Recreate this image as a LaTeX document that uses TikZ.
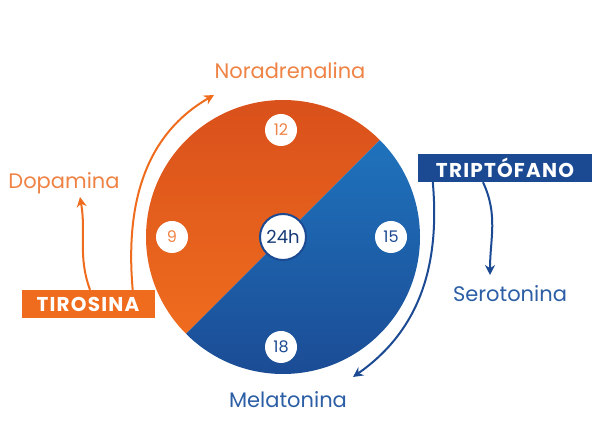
\documentclass[tikz,border=0pt]{standalone}
\usepackage{fontspec}
\setmainfont{Poppins}
\usetikzlibrary{arrows.meta}
\definecolor{naranja}{HTML}{EF6C1E}
\definecolor{naranjaosc}{HTML}{D84F1B}
\definecolor{naranjatxt}{HTML}{EE8345}
\definecolor{azul}{HTML}{1F72BC}
\definecolor{azulosc}{HTML}{1B4A93}
\definecolor{azultxt}{HTML}{2C5EA5}
\begin{document}
\begin{tikzpicture}[x=1pt,y=1pt,
	hora/.style={circle,fill=white,inner sep=0pt,minimum size=32pt,font=\fontsize{16}{16}\selectfont},
	caja/.style={inner xsep=7pt,minimum height=28pt,text=white,font=\fontsize{20}{20}\selectfont\bfseries\addfontfeature{LetterSpace=6}},
	etiq/.style={font=\fontsize{21}{21}\selectfont},
	flecha/.style={line width=2pt,-{Stealth[length=10pt,width=10pt]}}]
	\useasboundingbox (0,0) rectangle (600,447);
	\coordinate (c) at (283,210);
	% Mitades del reloj
	\shade[top color=naranjaosc,bottom color=naranja] (c) -- ++(45:137pt) arc[start angle=45,end angle=225,radius=137pt] -- cycle;
	\shade[top color=azul,bottom color=azulosc] (c) -- ++(225:137pt) arc[start angle=225,end angle=405,radius=137pt] -- cycle;
	% Horas
	\node[hora,text=naranjatxt] (h12) at (281,317) {12};
	\node[hora,text=naranjatxt] (h9) at (172,210) {9};
	\node[hora,text=azulosc] (h15) at (391,210) {15};
	\node[hora,text=azulosc] (h18) at (281,100) {18};
	\node[circle,fill=white,draw=azulosc,line width=2pt,minimum size=46pt,inner sep=0pt,text=azulosc!80!black,font=\fontsize{18}{18}\selectfont] (h24) at (c) {24h};
	% Tirosina
	\node[caja,fill=naranja,minimum width=133pt] (tiro) at (88,143) {TIROSINA};
	\node[etiq,text=naranjatxt] (dopa) at (64,264) {Dopamina};
	\node[etiq,text=naranjatxt] (nora) at (290,376) {Noradrenalina};
	\coordinate (pdopa) at (80,250);
	\coordinate (pnora) at (214,352);
	\draw[flecha,naranja] ([xshift=2pt]tiro.north) to[out=110,in=-80] (pdopa);
	\draw[flecha,naranja] ([xshift=-22pt]tiro.north east) to[out=95,in=210] (pnora);
	% Triptofano
	\node[caja,fill=azulosc,minimum width=174pt] (trip) at (505,279) {TRIPTÓFANO};
	\node[etiq,text=azultxt] (sero) at (510,153) {Serotonina};
	\node[etiq,text=azultxt] (mela) at (288,47) {Melatonina};
	\coordinate (psero) at (490,172);
	\coordinate (pmela) at (353,70);
	\draw[flecha,azulosc] ([xshift=-22pt]trip.south) to[out=-65,in=90] (psero);
	\draw[flecha,azulosc] ([xshift=15pt]trip.south west) to[out=-85,in=35] (pmela);
\end{tikzpicture}
\end{document}
